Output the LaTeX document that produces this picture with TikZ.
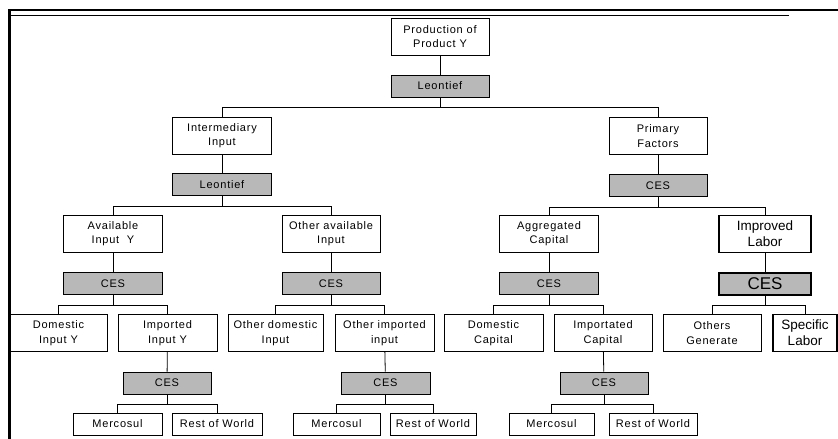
\documentclass[tikz,border=0pt]{standalone}
\usepackage{fontspec}
\setmainfont{Liberation Sans}[LetterSpace=7]
\newfontfamily\bigfont{Liberation Sans}
\tikzset{
  box/.style={draw, fill=white, minimum height=37pt, inner sep=0pt, align=center,
    font=\fontsize{11}{14.5}\selectfont},
  fn/.style={draw, fill=black!28, minimum height=22pt, inner sep=0pt,
    font=\fontsize{11}{14.5}\selectfont},
  leaf/.style={draw, fill=white, minimum height=22pt, inner sep=0pt,
    font=\fontsize{11}{14.5}\selectfont},
  bold/.style={line width=1.2pt, font=\bigfont\fontsize{13.5}{16}\selectfont},
}
\begin{document}
\begin{tikzpicture}[x=1pt, y=-1pt, line width=0.8pt]
\useasboundingbox (0,0) rectangle (838,439);
% frame
\draw[line width=2.2pt] (8,10) -- (838,10);
\draw[line width=0.6pt] (11,15) -- (789,15);
\draw[line width=2.6pt] (9.5,9) -- (9.5,439);

% top
\node[box, minimum width=98pt] (prod) at (440,36.5) {Production of\\Product Y};
\node[fn, minimum width=98pt] (leon1) at (440,86) {Leontief};
\node[box, minimum width=99pt] (inter) at (222,135.5) {Intermediary\\Input};
\node[fn, minimum width=99pt] (leon2) at (222,184.5) {Leontief};
\node[box, minimum width=98pt] (prim) at (658,136) {Primary\\Factors};
\node[fn, minimum width=98pt] (ces1) at (658,185.5) {CES};

% third level
\node[box, minimum width=99pt] (avail) at (113,233.5) {Available\\Input~ Y};
\node[fn, minimum width=99pt] (cesA) at (113,283.5) {CES};
\node[box, minimum width=98pt] (other) at (331,233.5) {Other available\\Input};
\node[fn, minimum width=98pt] (cesB) at (331,283.5) {CES};
\node[box, minimum width=99pt] (aggr) at (549,233.5) {Aggregated\\Capital};
\node[fn, minimum width=99pt] (cesC) at (549,283.5) {CES};
\node[box, bold, minimum width=92pt] (impl) at (765,234) {Improved\\Labor};
\node[fn, line width=1.2pt, minimum width=92pt,
  font=\bigfont\fontsize{17}{18}\selectfont] (cesD) at (765,284) {CES};

% fourth level
\node[box, minimum width=97pt] (domY) at (58.5,333) {Domestic\\Input Y};
\node[box, minimum width=99pt] (impY) at (167.5,333) {Imported\\Input Y};
\node[box, minimum width=95pt] (odom) at (275.5,333) {Other domestic\\Input};
\node[box, minimum width=99pt] (oimp) at (384.5,333) {Other imported\\input};
\node[box, minimum width=99pt] (dcap) at (493.5,333) {Domestic\\Capital};
\node[box, minimum width=98pt] (icap) at (603,333) {Importated\\Capital};
\node[box, minimum width=98pt] (oth) at (712,333) {Others\\Generate};
\node[box, bold, minimum width=64pt] (spec) at (805,333) {Specific\\Labor};

\node[fn, minimum width=88pt] (cesE) at (167,383) {CES};
\node[fn, minimum width=89pt] (cesF) at (385.5,383) {CES};
\node[fn, minimum width=88pt] (cesG) at (604,383) {CES};

% bottom
\node[leaf, minimum width=89pt] (merc1) at (117.5,424) {Mercosul};
\node[leaf, minimum width=90pt] (row1) at (217,424) {Rest of World};
\node[leaf, minimum width=87pt] (merc2) at (336.5,424) {Mercosul};
\node[leaf, minimum width=86pt] (row2) at (433,424) {Rest of World};
\node[leaf, minimum width=85pt] (merc3) at (551.5,424) {Mercosul};
\node[leaf, minimum width=88pt] (row3) at (653,424) {Rest of World};

% connectors
\foreach \a/\b in {prod/leon1, inter/leon2, prim/ces1, avail/cesA, other/cesB,
    aggr/cesC, impl/cesD, impY/cesE, oimp/cesF, icap/cesG}
  \draw (\a) -- (\b);
\foreach \f/\c in {leon1/inter, leon1/prim, leon2/avail, leon2/other,
    ces1/aggr, ces1/impl, cesA/domY, cesA/impY, cesB/odom, cesB/oimp,
    cesC/dcap, cesC/icap, cesD/oth, cesD/spec, cesE/merc1, cesE/row1,
    cesF/merc2, cesF/row2, cesG/merc3, cesG/row3}
  \draw (\f.south) -- ++(0,10) -| (\c.north);
\end{tikzpicture}
\end{document}
